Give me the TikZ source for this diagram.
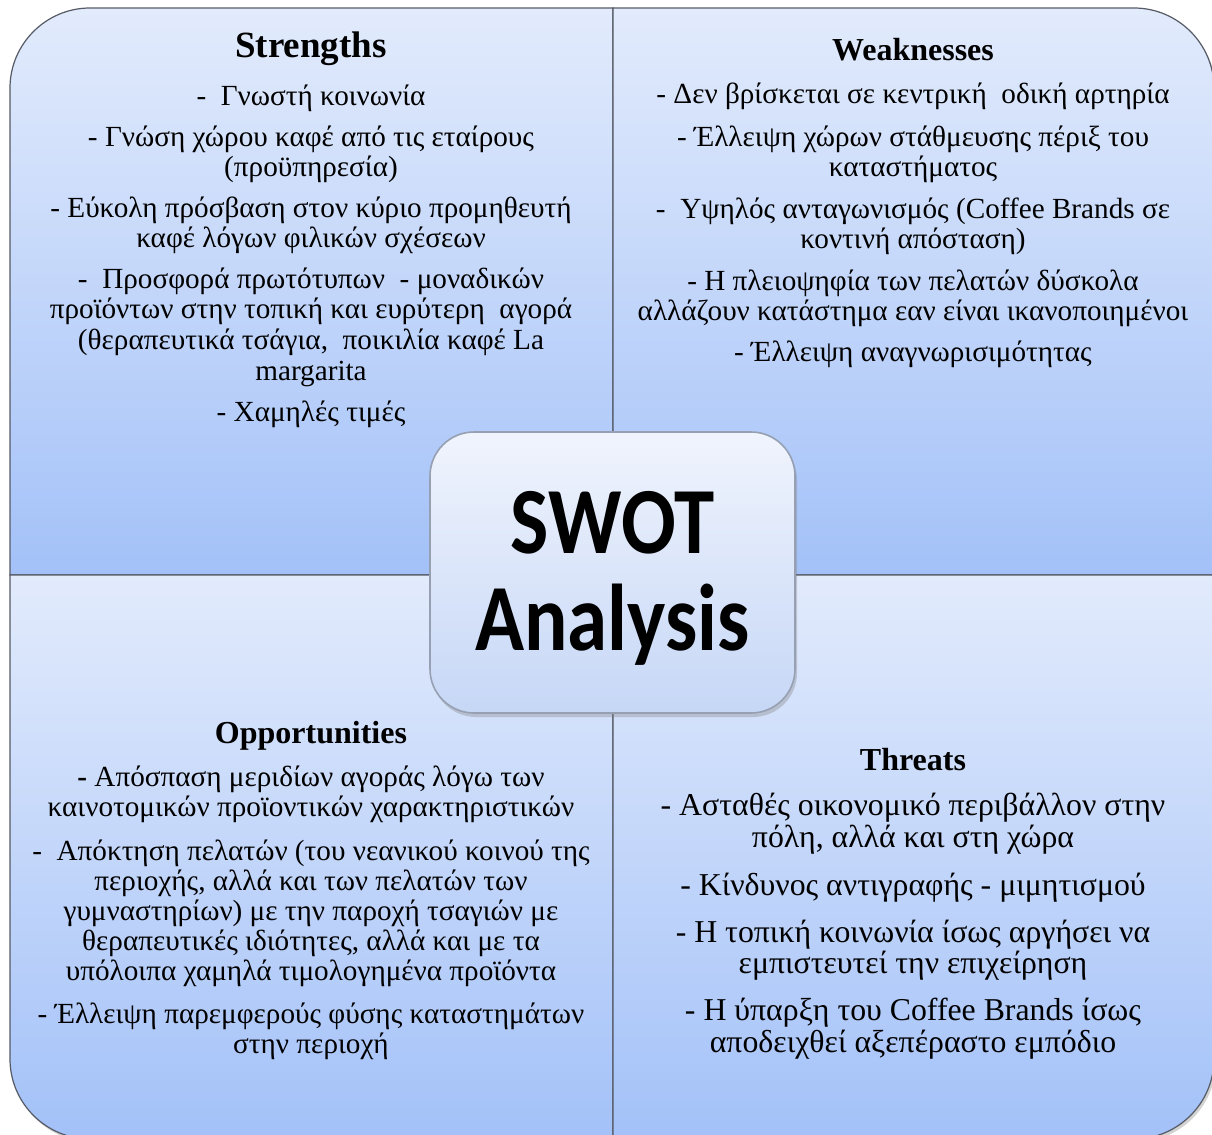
\documentclass[tikz,border=0pt]{standalone}
\usepackage{fontspec}
\usepackage{graphicx}
\setmainfont{Liberation Serif}
\newfontfamily\swotfont{Carlito}
\usetikzlibrary{shadows}
\definecolor{quadtop}{RGB}{226,235,252}
\definecolor{quadbot}{RGB}{163,193,248}
\definecolor{hubtop}{RGB}{240,244,253}
\definecolor{hubbot}{RGB}{198,215,246}
\definecolor{edgegray}{RGB}{85,90,100}
\definecolor{hubedge}{RGB}{150,160,178}
\begin{document}
\begin{tikzpicture}[x=0.5pt,y=-0.5pt,
  quad/.style={top color=quadtop,bottom color=quadbot,draw=edgegray,line width=0.6pt,
    drop shadow={shadow xshift=1pt,shadow yshift=-1.5pt,opacity=0.35}},
  hub/.style={rounded corners=22pt,minimum width=182.5pt,minimum height=140.5pt,
    top color=hubtop,bottom color=hubbot,draw=hubedge,line width=0.8pt,
    drop shadow={shadow xshift=1pt,shadow yshift=-2pt,opacity=0.35}},
  hubtxt/.style={anchor=base,inner sep=0pt,font=\swotfont\bfseries\fontsize{40.5}{44}\selectfont},
  head/.style={anchor=base,inner sep=0pt,font=\bfseries\fontsize{16}{18}\selectfont},
  txt/.style={anchor=base,inner sep=0pt,font=\fontsize{14.6}{15}\selectfont},
  bigtxt/.style={anchor=base,inner sep=0pt,font=\fontsize{15.9}{16}\selectfont}]
\useasboundingbox (0,0) rectangle (1212,1135);

% the four quadrants, each with one rounded outer corner
\path[quad] (613,575) -- (10,575) -- (10,88) .. controls (10,44) and (46,8) .. (90,8) -- (613,8) -- cycle;
\path[quad] (613,8) -- (1134,8) .. controls (1178,8) and (1214,44) .. (1214,88) -- (1214,575) -- (613,575) -- cycle;
\path[quad] (10,575) -- (613,575) -- (613,1139) -- (90,1139) .. controls (46,1139) and (10,1103) .. (10,1059) -- cycle;
\path[quad] (613,575) -- (1214,575) -- (1214,1059) .. controls (1214,1103) and (1178,1139) .. (1134,1139) -- (613,1139) -- cycle;

% Strengths
\node[head,font=\bfseries\fontsize{18.5}{20}\selectfont] (shead) at (311,57) {Strengths};
\foreach \yy/\t [count=\i] in {
  105/{-~ Γνωστή κοινωνία},
  146/{- Γνώση χώρου καφέ από τις εταίρους},
  176/{(προϋπηρεσία)},
  217/{- Εύκολη πρόσβαση στον κύριο προμηθευτή},
  247/{καφέ λόγων φιλικών σχέσεων},
  288/{-~ Προσφορά πρωτότυπων~ - μοναδικών},
  318/{προϊόντων στην τοπική και ευρύτερη~ αγορά},
  349/{(θεραπευτικά τσάγια,~ ποικιλία καφέ La},
  380/{margarita},
  421/{- Χαμηλές τιμές}}
  \node[txt] (s\i) at (311,\yy) {\t};

% Weaknesses
\node[head] (whead) at (913,61) {Weaknesses};
\foreach \yy/\t [count=\i] in {
  104/{- Δεν βρίσκεται σε κεντρική~ οδική αρτηρία},
  146/{- Έλλειψη χώρων στάθμευσης πέριξ του},
  176/{καταστήματος},
  218/{-~ Υψηλός ανταγωνισμός (Coffee Brands σε},
  248/{κοντινή απόσταση)},
  290/{- Η πλειοψηφία των πελατών δύσκολα},
  320/{αλλάζουν κατάστημα εαν είναι ικανοποιημένοι},
  361/{- Έλλειψη αναγνωρισιμότητας}}
  \node[txt] (w\i) at (913,\yy) {\t};

% Opportunities
\node[head] (ohead) at (311,743) {Opportunities};
\foreach \yy/\t [count=\i] in {
  786/{{\bfseries -} Απόσπαση μεριδίων αγοράς λόγω των},
  816/{καινοτομικών προϊοντικών χαρακτηριστικών},
  860/{-~ Απόκτηση πελατών (του νεανικού κοινού της},
  890/{περιοχής, αλλά και των πελατών των},
  920/{γυμναστηρίων) με την παροχή τσαγιών με},
  950/{θεραπευτικές ιδιότητες, αλλά και με τα},
  980/{υπόλοιπα χαμηλά τιμολογημένα προϊόντα},
  1023/{- Έλλειψη παρεμφερούς φύσης καταστημάτων},
  1053/{στην περιοχή}}
  \node[txt] (o\i) at (311,\yy) {\t};

% Threats
\node[head] (thead) at (913,770) {Threats};
\foreach \yy/\t [count=\i] in {
  815/{- Ασταθές οικονομικό περιβάλλον στην},
  847/{πόλη, αλλά και στη χώρα},
  895/{- Κίνδυνος αντιγραφής - μιμητισμού},
  942/{- Η τοπική κοινωνία ίσως αργήσει να},
  973/{εμπιστευτεί την επιχείρηση},
  1020/{- Η ύπαρξη του Coffee Brands ίσως},
  1052/{αποδειχθεί αξεπέραστο εμπόδιο}}
  \node[bigtxt] (t\i) at (913,\yy) {\t};

% central hub
\node[hub] (hub) at (612.5,572.5) {};
\node[hubtxt] (swot) at (612.5,553) {\scalebox{1}[1.17]{SWOT}};
\node[hubtxt] (analysis) at (612.5,650) {\scalebox{1}[1.17]{Analysis}};
\end{tikzpicture}
\end{document}
